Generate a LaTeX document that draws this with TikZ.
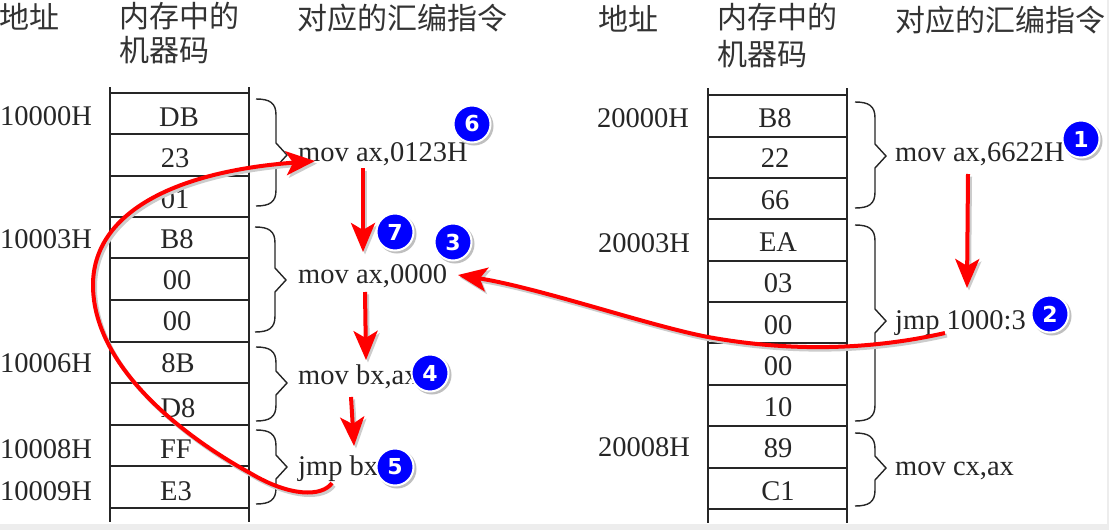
\documentclass[tikz,border=0pt]{standalone}
\usepackage{fontspec}
\setmainfont{Liberation Serif}
\newfontfamily\cjkfont{Noto Sans CJK SC}
\newfontfamily\badgefont{DejaVu Sans}
\usetikzlibrary{arrows.meta}

\tikzset{
    code/.style={inner sep=0pt,color=black!85,font=\fontsize{28.5}{30}\selectfont},
    addr/.style={code,anchor=base west},
    byte/.style={code,anchor=base},
    instr/.style={code,anchor=base west},
    head/.style={inner sep=0pt,anchor=west,align=left,font=\cjkfont\fontsize{30}{34}\selectfont,color=black!80},
    badge/.style={circle,draw=white,line width=2pt,fill=blue,text=white,minimum size=37pt,inner sep=0pt,font=\badgefont\bfseries\fontsize{22}{22}\selectfont,
        preaction={draw=black!25,fill=black!25,line width=2pt,transform canvas={shift={(2pt,-2pt)}}}},
    table/.style={color=black!85,line width=1.5pt},
    curly/.style={color=black!85,line width=1.4pt},
    redarrow/.style={draw=red,line width=4pt,-{Stealth[length=29pt,width=24pt,inset=7pt]},
        preaction={draw=black!20,line width=4pt,transform canvas={shift={(2pt,-2.5pt)}}}}
}
% x, top, tip height, bottom
\newcommand{\curlybrace}[4]{
    \draw[curly] (#1,#2) .. controls ({#1+14},#2) and ({#1+20},{#2+4}) .. ({#1+20},{#2+16})
        -- ({#1+20},{#3-12}) -- ({#1+31},#3) -- ({#1+20},{#3+12}) -- ({#1+20},{#4-16})
        .. controls ({#1+20},{#4-4}) and ({#1+14},#4) .. (#1,#4);
}

\begin{document}
\begin{tikzpicture}[x=1pt,y=-1pt]
    \useasboundingbox[fill=white] (0,0) rectangle (1109,530);
    \fill[black!7] (0,524) rectangle (1109,530);
    \fill[black!7] (1107,0) rectangle (1109,530);

    % left table
    \draw[table] (110,87) -- (110,522);
    \draw[table] (249,87) -- (249,522);
    \foreach \y in {93,134,176,217,258,300,342,383,425,466,508}
        \draw[table] (110,\y) -- (249,\y);
    \node[head] (headAddrL) at (-1,17) {地址};
    \node[head] (headCodeL) at (119,33.5) {内存中的\\机器码};
    \node[head] (headInstrL) at (297,18) {对应的汇编指令};
    \node[addr] (addrA) at (0,125) {10000H};
    \node[addr] (addrB) at (0,248) {10003H};
    \node[addr] (addrC) at (0,372) {10006H};
    \node[addr] (addrD) at (0,458) {10008H};
    \node[addr] (addrE) at (0,500) {10009H};
    \node[byte] (byteA) at (179,126) {DB};
    \node[byte] (byteB) at (175,167) {23};
    \node[byte] (byteC) at (175,208) {01};
    \node[byte] (byteD) at (177,248) {B8};
    \node[byte] (byteE) at (177,289) {00};
    \node[byte] (byteF) at (177,330) {00};
    \node[byte] (byteG) at (178,372) {8B};
    \node[byte] (byteH) at (178,417) {D8};
    \node[byte] (byteI) at (176,458) {FF};
    \node[byte] (byteJ) at (176,500) {E3};
    \curlybrace{256}{99}{155}{206}
    \curlybrace{255}{227}{280}{332}
    \curlybrace{256}{347}{383}{421}
    \curlybrace{256}{430}{467}{504}
    \node[instr] (movA) at (298,161) {mov ax,0123H};
    \node[instr] (movB) at (298,283) {mov ax,0000};
    \node[instr] (movC) at (298,384) {mov bx,ax};
    \node[instr] (jmpA) at (298,475) {jmp bx};

    % right table
    \draw[table] (708,88) -- (708,523);
    \draw[table] (847,88) -- (847,523);
    \foreach \y in {95,137,178,219,261,302,343,385,426,468,509}
        \draw[table] (708,\y) -- (847,\y);
    \node[head] (headAddrR) at (598,19) {地址};
    \node[head] (headCodeR) at (717,36) {内存中的\\[3pt]机器码};
    \node[head] (headInstrR) at (895,20) {对应的汇编指令};
    \node[addr] (addrF) at (597,127) {20000H};
    \node[addr] (addrG) at (598,252) {20003H};
    \node[addr] (addrH) at (598,456) {20008H};
    \node[byte] (byteK) at (775,127) {B8};
    \node[byte] (byteL) at (775,167) {22};
    \node[byte] (byteM) at (775,209) {66};
    \node[byte] (byteN) at (778,251) {EA};
    \node[byte] (byteO) at (778,292) {03};
    \node[byte] (byteP) at (778,334) {00};
    \node[byte] (byteQ) at (778,375) {00};
    \node[byte] (byteR) at (778,416) {10};
    \node[byte] (byteS) at (778,457) {89};
    \node[byte] (byteT) at (778,500) {C1};
    \curlybrace{855}{102}{156}{208}
    \curlybrace{855}{225}{321}{421}
    \curlybrace{855}{433}{468}{506}
    \node[instr] (movD) at (895,161) {mov ax,6622H};
    \node[instr] (jmpB) at (895,329) {jmp 1000:3};
    \node[instr] (movE) at (895,475) {mov cx,ax};

    % red arrows
    \coordinate (startA) at (968,174);
    \coordinate (endA) at (967,288);
    \coordinate (startB) at (945,333);
    \coordinate (endB) at (458,275);
    \coordinate (startC) at (363,168);
    \coordinate (endC) at (363,252);
    \coordinate (startD) at (365,292);
    \coordinate (endD) at (366,360);
    \coordinate (startE) at (351,397);
    \coordinate (endE) at (354,446);
    \coordinate (startF) at (332,483);
    \coordinate (endF) at (315,161);
    \draw[redarrow] (startA) -- (endA);
    \draw[redarrow] (startB) .. controls (870,350) and (790,352) .. (708,337) .. controls (650,326) and (540,288) .. (endB);
    \draw[redarrow] (startC) -- (endC);
    \draw[redarrow] (startD) -- (endD);
    \draw[redarrow] (startE) -- (endE);
    \draw[redarrow] (startF) .. controls (322,497) and (290,497) .. (250,473) .. controls (190,440) and (93,370) .. (93,285) .. controls (93,215) and (170,172) .. (endF);

    % step numbers
    \node[badge] (stepA) at (1081,139) {1};
    \node[badge] (stepB) at (1050,314) {2};
    \node[badge] (stepC) at (453,242) {3};
    \node[badge] (stepD) at (430,373) {4};
    \node[badge] (stepE) at (395,467) {5};
    \node[badge] (stepF) at (472,124) {6};
    \node[badge] (stepG) at (395,232) {7};
\end{tikzpicture}
\end{document}
